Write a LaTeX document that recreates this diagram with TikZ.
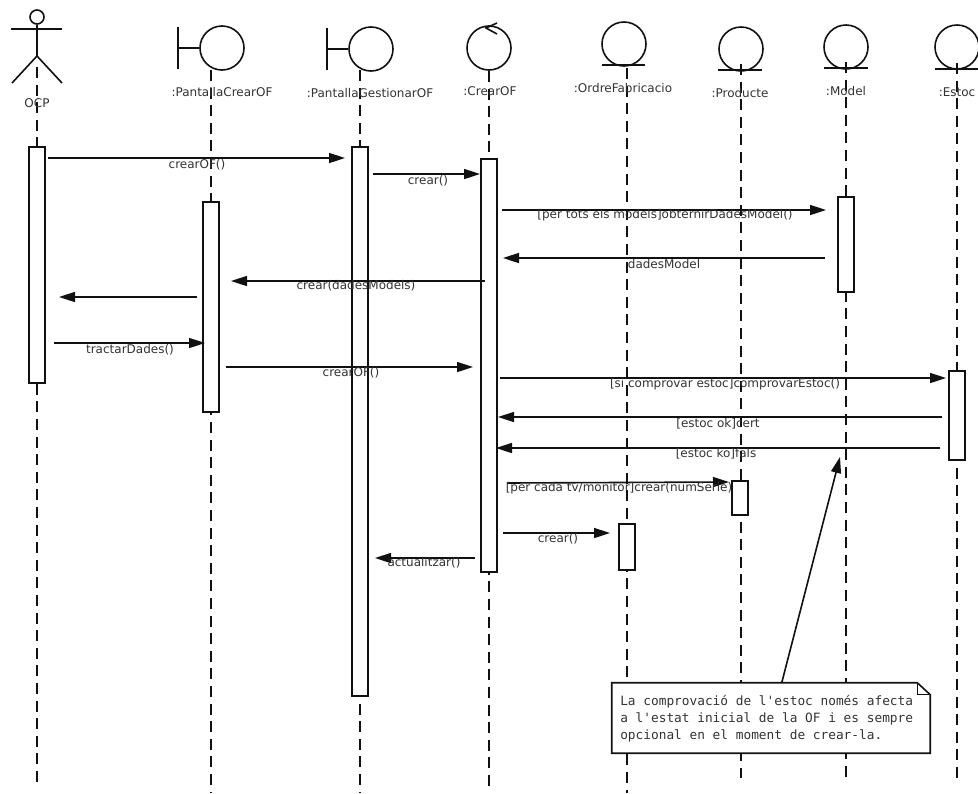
\documentclass[tikz,border=0pt]{standalone}
\usepackage{fontspec}
\newfontfamily\labfont{DejaVu Sans}
\newfontfamily\notefont{DejaVu Sans Mono}
\usetikzlibrary{arrows.meta,calc}
\definecolor{ink}{HTML}{111111}
\definecolor{txt}{HTML}{333333}
\tikzset{
  figure/.style={draw=ink,line width=1.2pt},
  icon/.style={circle,draw=ink,line width=1.2pt,minimum size=33pt,inner sep=0pt,fill=none},
  lifeline/.style={draw=ink,line width=0.8pt,dash pattern=on 8.2pt off 5pt},
  bar/.style={rectangle,draw=ink,fill=white,line width=1.2pt,minimum width=12pt,inner sep=0pt},
  msg/.style={draw=ink,line width=1.2pt,-{Triangle[length=12pt,width=7.5pt]}},
  thin msg/.style={draw=ink,line width=0.9pt,-{Triangle[length=12pt,width=7.5pt]}},
  lab/.style={font=\labfont\fontsize{9}{11}\selectfont,text=txt,inner sep=0pt},
  notetext/.style={font=\notefont\fontsize{9.6}{12.75}\selectfont,text=txt,align=left,inner sep=0pt},
}
\begin{document}
\begin{tikzpicture}[x=0.75pt,y=-0.75pt]
\useasboundingbox[fill=white] (0,0) rectangle (978,793);

% lifeline ends
\coordinate (e1) at (37,782);
\coordinate (e2) at (211,792);
\coordinate (e3) at (360,792);
\coordinate (e4) at (489,786);
\coordinate (e5) at (627,793);
\coordinate (e6) at (741,778);
\coordinate (e7) at (846,782);
\coordinate (e8) at (957,778);

% icons
\node[icon,minimum size=10.5pt] (headOCP) at (37,17) {};
\node[icon] (iPC) at (222,48) {};
\node[icon] (iPG) at (371,49) {};
\node[icon] (iCO) at (489,48) {};
\node[icon] (iOF) at (624,44) {};
\node[icon] (iPR) at (741,49) {};
\node[icon] (iMO) at (846,47) {};
\node[icon] (iES) at (957,47) {};

% actor
\coordinate (hipOCP) at (37,56);
\draw[figure] (headOCP.south) -- (hipOCP);
\draw[figure] (11,29) -- (62,29);
\draw[figure] (12,83) -- (hipOCP) -- (62,83);
% boundaries
\draw[figure] (178,27) -- (178,69);
\draw[figure] (178,48) -- (iPC.west);
\draw[figure] (327,28) -- (327,70);
\draw[figure] (327,49) -- (iPG.west);
% control
\draw[figure] (497,23) -- (486,28) -- (497,34);
% entities
\draw[figure] (602,65) -- (645,65);
\draw[figure] (718,70) -- (762,70);
\draw[figure] (824,68) -- (868,68);
\draw[figure] (935,69) -- (978,69);

% lifelines
\coordinate (s1) at (37,67);
\coordinate (s2) at (211,70);
\coordinate (s3) at (360,70);
\coordinate (s4) at (489,71);
\coordinate (s5) at (627,68);
\coordinate (s6) at (741,64);
\coordinate (s7) at (846,62);
\coordinate (s8) at (957,63);
\foreach \i in {1,...,8} \draw[lifeline] (s\i) -- (e\i);

% activation bars
\node[bar,minimum height=177pt] (bOCP) at (37,265) {};
\node[bar,minimum height=157.5pt] (bPC) at (211,307) {};
\node[bar,minimum height=411.75pt] (bPG) at (360,421.5) {};
\node[bar,minimum height=309.75pt] (bCO) at (489,365.5) {};
\node[bar,minimum height=34.5pt] (bOF) at (627,547) {};
\node[bar,minimum height=25.5pt] (bPR) at (740,498) {};
\node[bar,minimum height=71.25pt] (bMO) at (846,244.5) {};
\node[bar,minimum height=66.75pt] (bES) at (957,415.5) {};

% messages: name / from x / to x / y
\foreach \n/\xa/\xb/\yy in {
  a/48/345/158, b/373/480/174, c/502/826/210, d/825/503/258,
  f/485/231/281, g/197/59/297, h/54/205/343, i/226/473/367,
  j/500/946/378, k/942/498/417, l/940/496/448, n/503/610/533, o/475/375/558}{
  \coordinate (\n1) at (\xa,\yy);
  \coordinate (\n2) at (\xb,\yy);
  \draw[msg] (\n1) -- (\n2);
}
\coordinate (m1) at (507,483);
\coordinate (m2) at (729,482);
\draw[msg] (m1) -- (m2);

% message labels
\node[lab] (la) at (197,165) {crearOF()};
\node[lab] (lb) at (428,181) {crear()};
\node[lab] (lc) at (665,215) {[per tots els models]obternirDadesModel()};
\node[lab] (ld) at (664,264) {dadesModel};
\node[lab] (lf) at (356,286) {crear(dadesModels)};
\node[lab] (lh) at (130,350) {tractarDades()};
\node[lab] (li) at (351,373) {crearOF()};
\node[lab] (lj) at (725,384) {[si comprovar estoc]comprovarEstoc()};
\node[lab] (lk) at (718,424) {[estoc ok]cert};
\node[lab] (ll) at (716,454) {[estoc ko]fals};
\node[lab] (lm) at (619,488) {[per cada tv/monitor]crear(numSerie)};
\node[lab] (ln) at (558,539) {crear()};
\node[lab] (lo) at (424,563) {actualitzar()};

% object labels
\node[lab] (nOCP) at (37,103) {OCP};
\node[lab] (nPC) at (222,92) {:PantallaCrearOF};
\node[lab] (nPG) at (370,93) {:PantallaGestionarOF};
\node[lab] (nCO) at (490,91) {:CrearOF};
\node[lab] (nOF) at (623,88) {:OrdreFabricacio};
\node[lab] (nPR) at (740,93) {:Producte};
\node[lab] (nMO) at (846,91) {:Model};
\node[lab] (nES) at (957,92) {:Estoc};

% note
\node[minimum width=238.5pt,minimum height=52.5pt,inner sep=0pt,fill=white] (note) at (771,718) {};
\draw[figure,line join=miter] (note.north west) -- ($(note.north east)+(-13,0)$) -- ($(note.north east)+(0,12)$) -- (note.south east) -- (note.south west) -- cycle;
\draw[draw=ink,line width=0.7pt] ($(note.north east)+(-13,0)$) -- ($(note.north east)+(-13,12)$) -- ($(note.north east)+(0,12)$);
\node[notetext,anchor=west] (notebody) at (620,718.5) {La comprovació de l'estoc només afecta\\a l'estat inicial de la OF i es sempre\\opcional en el moment de crear-la.};
\coordinate (noteTarget) at (840,457);
\draw[msg] ($(note.north west)+(170,0)$) -- (noteTarget);
\end{tikzpicture}
\end{document}
